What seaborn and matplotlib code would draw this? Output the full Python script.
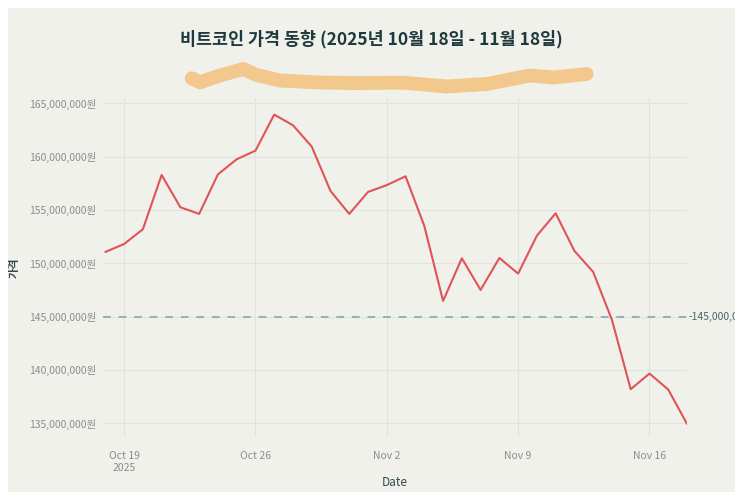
import numpy as np
import pandas as pd
import matplotlib
matplotlib.use("Agg")
import matplotlib.pyplot as plt
from matplotlib.patches import Rectangle
from matplotlib.lines import Line2D
import seaborn as sns

# data (in 원)
dates = pd.date_range("2025-10-18", "2025-11-18", freq="D")
prices_m = [151.06, 151.81, 153.19, 158.28, 155.25, 154.63, 158.34, 159.75,
            160.56, 163.94, 162.94, 160.94, 156.78, 154.63, 156.69, 157.33,
            158.16, 153.50, 146.47, 150.47, 147.50, 150.50, 149.03, 152.59,
            154.69, 151.16, 149.19, 144.69, 138.19, 139.66, 138.16, 134.94]
prices = [p * 1_000_000 for p in prices_m]
ref_level = 145_000_000
ytick_vals = [135_000_000, 140_000_000, 145_000_000, 150_000_000,
              155_000_000, 160_000_000, 165_000_000]
xtick_dates = pd.to_datetime(["2025-10-19", "2025-10-26", "2025-11-02",
                              "2025-11-09", "2025-11-16"])
xtick_labels = ["Oct 19\n2025", "Oct 26", "Nov 2", "Nov 9", "Nov 16"]
title = "비트코인 가격 동향 (2025년 10월 18일 - 11월 18일)"

df = pd.DataFrame({"Date": dates, "가격": prices})

sns.set_style("white")
plt.rcParams["font.family"] = ["Noto Sans CJK KR", "DejaVu Sans"]

bg = "#f1f1ec"
W, H = 743, 500
fig = plt.figure(figsize=(W / 100, H / 100), dpi=100, facecolor="white")
panel = Rectangle((8 / W, 8 / H), 727 / W, 484 / H, transform=fig.transFigure,
                  facecolor=bg, edgecolor="none", zorder=-10)
fig.patches.append(panel)

ax = fig.add_axes([103 / W, 1 - 436.7 / H, 584 / W, (436.7 - 98.3) / H])
ax.set_facecolor(bg)

sns.lineplot(data=df, x="Date", y="가격", ax=ax, color="#e05357", linewidth=1.5)
ax.axhline(ref_level, color="#93b2b5", linestyle=(0, (4, 4)), linewidth=1.4, zorder=1)

ax.set_xlim(dates[0] - pd.Timedelta(hours=3), dates[-1])
ax.set_ylim(133_740_000, 165_470_000)
ax.set_yticks(ytick_vals)
ax.set_yticklabels([f"{v:,}원" for v in ytick_vals])
ax.set_xticks(xtick_dates)
ax.set_xticklabels(xtick_labels, linespacing=1.3)

ax.grid(True, color="#e3e3de", linewidth=0.8)
ax.set_axisbelow(True)
for s in ax.spines.values():
    s.set_visible(False)
ax.tick_params(axis="y", length=4, width=0.8, color="#d8d8d4", pad=1,
               labelsize=7.5, labelcolor="#8c8c8c")
ax.tick_params(axis="x", length=0, pad=10, labelsize=7.5, labelcolor="#8c8c8c")

ax.set_xlabel("Date", fontsize=8.5, color="#2f4a4d", labelpad=2)
ax.set_ylabel("")
fig.text(14 / W, 1 - 268 / H, "가격", rotation=90, ha="center", va="center",
         fontsize=8, color="#2f4a4d", fontweight="bold")

# reference level label, clipped to the panel like the screenshot
lbl = ax.annotate("-145,000,000원", xy=(1, ref_level), xycoords=("axes fraction", "data"),
                  xytext=(1, 0), textcoords="offset points", ha="left", va="center",
                  fontsize=7.5, color="#4d6466", annotation_clip=False)
lbl.set_clip_path(panel)

fig.text(0.5, 1 - 39 / H, title, ha="center", va="center", fontsize=12.5,
         color="#1f3a3d", fontweight="bold")

# hand-drawn highlighter scribble over the subtitle area
sx = [191.7, 200, 220, 243.3, 256.7, 280, 320, 353.3, 403.3, 430, 446.7, 486.7,
      530, 553.3, 586.7]
sy = [78.3, 82.3, 75.5, 69, 75, 80.5, 82.5, 83, 82.7, 85, 86.5, 84, 75.5, 77.5, 74]
fig.lines.append(Line2D([x / W for x in sx], [1 - y / H for y in sy],
                        transform=fig.transFigure, color="#f2c88c", linewidth=10,
                        solid_capstyle="round", solid_joinstyle="round"))

fig.savefig("out.png", dpi=100, facecolor="white")
